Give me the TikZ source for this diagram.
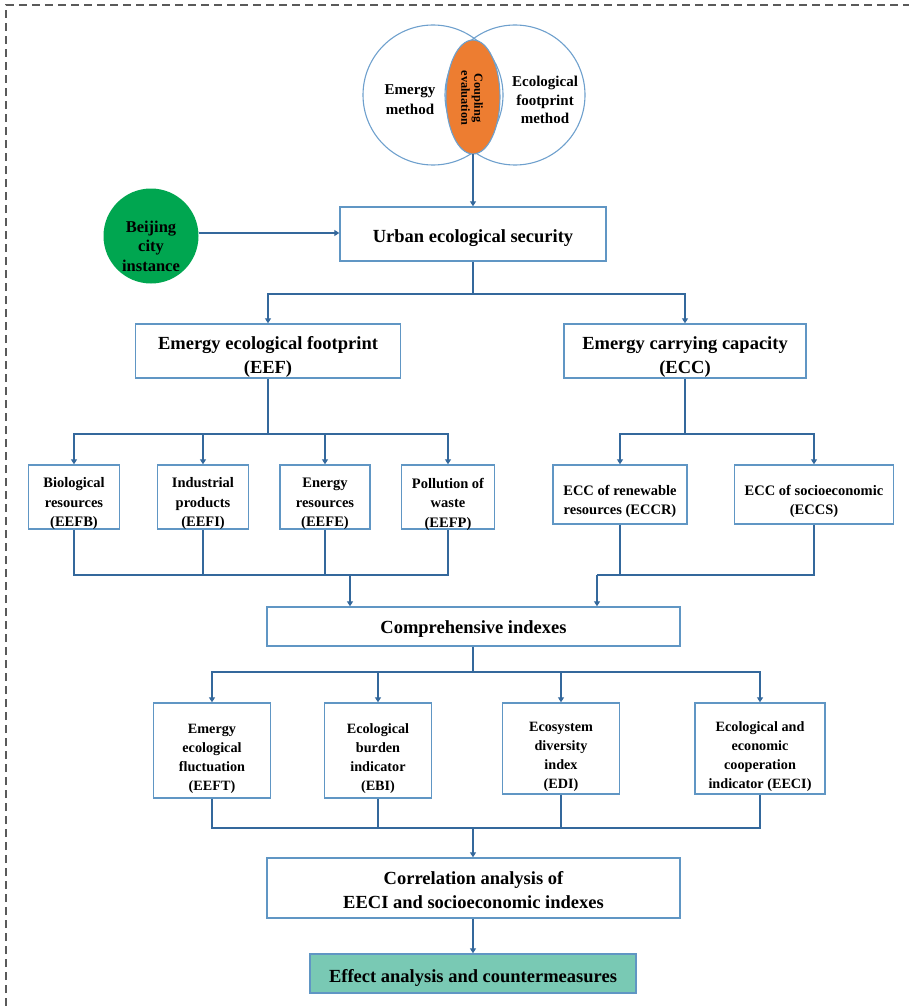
\documentclass[tikz,border=0pt]{standalone}
\usepackage{fontspec}
\setmainfont{Liberation Serif}
\usetikzlibrary{arrows.meta,calc}
\definecolor{boxc}{RGB}{96,150,196}
\definecolor{linec}{RGB}{52,104,156}
\definecolor{circc}{RGB}{110,160,205}
\definecolor{orangec}{RGB}{237,125,49}
\definecolor{greenc}{RGB}{0,166,80}
\definecolor{tealc}{RGB}{121,201,180}
\definecolor{dashc}{RGB}{90,90,90}
\tikzset{
  box/.style={draw=boxc, line width=1.4pt, fill=white, inner sep=0pt},
  conn/.style={draw=linec, line width=1.8pt},
  arr/.style={conn, -{Triangle[width=6pt,length=5pt]}},
  txt/.style={align=center, inner sep=0pt},
  fbig/.style={txt, font=\bfseries\fontsize{18.5}{24}\selectfont},
  fmid/.style={txt, font=\bfseries\fontsize{14.5}{19.5}\selectfont},
  fsmall/.style={txt, font=\bfseries\fontsize{14.2}{19}\selectfont},
}
% #1 extra box options, #2 name, #3 cx, #4 cy, #5 width, #6 height, #7 text dy, #8 text style, #9 text
\newcommand{\mybox}[9][]{%
  \node[box, #1, minimum width=#5, minimum height=#6] (#2) at (#3,#4) {};
  \node[#8] (#2t) at (#3,#4+#7) {#9};}
\begin{document}
\begin{tikzpicture}[x=1pt,y=-1pt]
\useasboundingbox (0,0) rectangle (909,1006);
% dashed frame
\draw[dashc, line width=1.1pt, dash pattern=on 8pt off 5pt] (6,1006) -- (6,5) -- (909,5);
% Venn
\draw[circc, line width=1.1pt] (433,95) circle (70);
\draw[circc, line width=1.1pt] (515,95) circle (70);
\draw[circc, line width=1.1pt, fill=orangec] (473,97) ellipse (27 and 57);
\node[font=\bfseries\fontsize{15}{20}\selectfont, align=center] (em) at (410,100) {Emergy\\method};
\node[font=\bfseries\fontsize{15}{18.5}\selectfont, align=center] (efm) at (545,100) {Ecological\\footprint\\method};
\node[font=\bfseries\fontsize{12.3}{13}\selectfont, align=center, rotate=-90] (ce) at (472,98) {Coupling\\evaluation};
\coordinate (ellbot) at (473,154);
% Beijing
\node[circle, fill=greenc, minimum size=95, inner sep=0] (bj) at (151,236) {};
\node[txt, font=\bfseries\fontsize{16.5}{19.5}\selectfont] (bjt) at (151,246) {Beijing\\city\\instance};
% boxes
\mybox{urban}{473}{234}{266}{54}{4}{fbig}{Urban ecological security}
\mybox{eef}{268}{351}{265}{54}{6}{fbig}{Emergy ecological footprint\\(EEF)}
\mybox{ecc}{685}{351}{242}{54}{6}{fbig}{Emergy carrying capacity\\(ECC)}
\mybox{bio}{74}{497}{91}{64}{7}{fmid}{Biological\\resources\\(EEFB)}
\mybox{ind}{203}{497}{91}{64}{7}{fmid}{Industrial\\products\\(EEFI)}
\mybox{ene}{325}{497}{90}{64}{7}{fmid}{Energy\\resources\\(EEFE)}
\mybox{pol}{448}{497}{93}{64}{7}{fmid}{Pollution of\\waste\\(EEFP)}
\mybox{eccr}{620}{494.5}{134}{59}{7}{fmid}{ECC of renewable\\resources (ECCR)}
\mybox{eccs}{814}{494.5}{159}{59}{7}{fmid}{ECC of socioeconomic\\(ECCS)}
\mybox{comp}{473.5}{626.5}{413}{39}{3}{fbig}{Comprehensive indexes}
\mybox{eeft}{212}{750.5}{117}{95}{8}{fsmall}{Emergy\\ecological\\fluctuation\\(EEFT)}
\mybox{ebi}{378}{750.5}{107}{95}{8}{fsmall}{Ecological\\burden\\indicator\\(EBI)}
\mybox{edi}{561}{748.5}{117}{91}{8}{fsmall}{Ecosystem\\diversity\\index\\(EDI)}
\mybox{eeci}{760}{748.5}{130}{91}{8}{fsmall}{Ecological and\\economic\\cooperation\\indicator (EECI)}
\mybox{corr}{473.5}{888}{413}{60}{2.5}{fbig}{Correlation analysis of\\EECI and socioeconomic indexes}
\mybox[fill=tealc]{eff}{473}{973.5}{326}{39}{4}{fbig}{Effect analysis and countermeasures}
% bus coordinates
\coordinate (b1) at (473,294);
\coordinate (b2) at (268,434);
\coordinate (b3) at (685,434);
\coordinate (m1) at (350,575);
\coordinate (m2) at (597,575);
\coordinate (c1) at (473,672);
\coordinate (c2) at (473,828);
% connectors
\draw[arr] (ellbot) -- (urban.north -| ellbot);
\draw[arr] (bj.east |- 0,233) -- (urban.west |- 0,233);
\draw[conn] (urban.south -| b1) -- (b1);
\draw[arr] (b1) -| (eef.north);
\draw[arr] (b1) -| (ecc.north);
\draw[conn] (eef.south) -- (b2);
\draw[arr] (b2) -| (bio.north);
\draw[arr] (b2) -| (pol.north);
\draw[arr] (ind.north |- b2) -- (ind.north);
\draw[arr] (ene.north |- b2) -- (ene.north);
\draw[conn] (ecc.south) -- (b3);
\draw[arr] (b3) -| (eccr.north);
\draw[arr] (b3) -| (eccs.north);
\draw[conn] (bio.south) |- (m1) -| (pol.south);
\draw[conn] (ind.south) -- (ind.south |- m1);
\draw[conn] (ene.south) -- (ene.south |- m1);
\draw[arr] (m1) -- (comp.north -| m1);
\draw[conn] (eccr.south) |- (eccs.south |- m2) -- (eccs.south);
\draw[conn] (eccr.south |- m2) -- (m2);
\draw[arr] (m2) -- (comp.north -| m2);
\draw[conn] (comp.south -| c1) -- (c1);
\draw[arr] (c1) -| (eeft.north);
\draw[arr] (c1) -| (eeci.north);
\draw[arr] (ebi.north |- c1) -- (ebi.north);
\draw[arr] (edi.north |- c1) -- (edi.north);
\draw[conn] (eeft.south) |- (c2) -| (eeci.south);
\draw[conn] (ebi.south) -- (ebi.south |- c2);
\draw[conn] (edi.south) -- (edi.south |- c2);
\draw[arr] (c2) -- (corr.north -| c2);
\draw[arr] (corr.south -| eff.north) -- (eff.north);
\end{tikzpicture}
\end{document}
